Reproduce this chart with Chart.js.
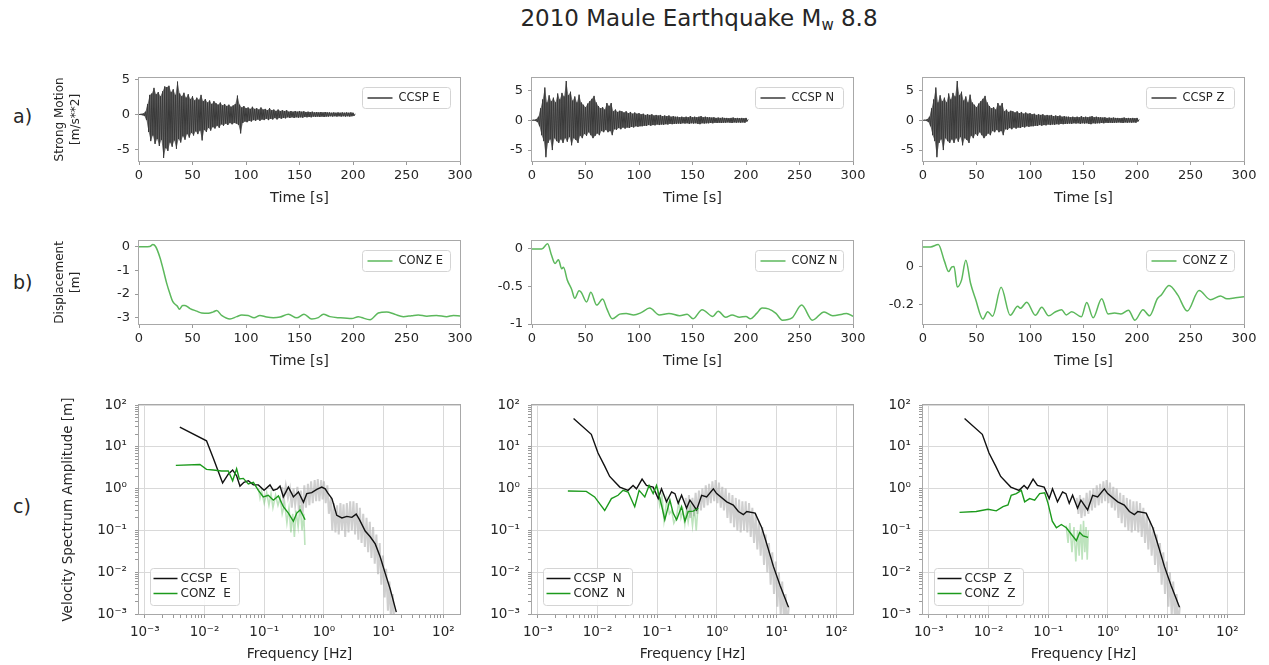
<!DOCTYPE html>
<html>
<head>
<meta charset="utf-8">
<script src="https://cdn.jsdelivr.net/npm/chart.js@4.4.1/dist/chart.umd.min.js"></script>
<style>
body{margin:0;width:1269px;height:665px;position:relative;overflow:hidden;background:#fff;font-family:'DejaVu Sans',sans-serif;color:#262626}
canvas{position:absolute}
#title{position:absolute;left:449px;top:5px;width:500px;text-align:center;font-size:23px;line-height:26px}
#title sub{font-size:15px;vertical-align:-4px;line-height:0}
.row{position:absolute;left:13px;font-size:19px;line-height:20px}
</style>
</head>
<body>
<div id="title">2010 Maule Earthquake M<sub>w</sub> 8.8</div>
<div class="row" style="top:106px">a)</div>
<div class="row" style="top:272px">b)</div>
<div class="row" style="top:496px">c)</div>
<script>
// ========== Data ==========
// strong motion: envelope peaks read every 2 s (upper at even s, lower at odd s)
const ENV_STEP=2;
const accUpE=[0.05,0.1,0.15,0.4,1.5,2.8,3.0,3.8,2.9,3.2,2.6,3.3,4.0,3.9,4.1,3.2,3.6,2.8,4.7,3.0,2.6,3.1,2.4,2.9,2.2,2.6,2.0,2.4,2.1,2.8,1.9,2.2,1.7,2.0,1.5,1.9,1.6,1.4,1.7,1.3,1.5,1.2,1.4,1.1,1.3,1.5,2.7,1.4,1.0,1.2,0.9,1.0,0.8,1.1,0.8,0.9,0.7,1.0,0.7,0.8,0.6,0.9,0.6,0.7,0.5,0.7,0.5,0.6,0.5,0.6,0.4,0.5,0.4,0.5,0.4,0.5,0.4,0.45,0.35,0.4,0.35,0.4,0.3,0.35,0.3,0.35,0.3,0.35,0.3,0.3,0.25,0.3,0.25,0.3,0.25,0.3,0.25,0.3,0.25,0.3,0.25,0.1];
const accLoE=[-0.05,-0.1,-0.2,-0.8,-2.5,-3.8,-3.0,-4.2,-3.5,-4.5,-3.6,-6.2,-4.8,-5.2,-4.0,-4.6,-3.7,-4.9,-3.5,-4.0,-3.1,-3.6,-2.8,-3.3,-2.6,-3.0,-2.4,-2.8,-2.3,-3.7,-2.2,-2.5,-1.9,-2.3,-1.8,-2.0,-1.6,-1.9,-1.4,-1.6,-1.3,-1.5,-1.2,-1.4,-1.2,-1.3,-1.5,-2.7,-1.2,-1.0,-1.1,-0.9,-1.0,-0.8,-0.9,-0.7,-0.9,-0.7,-0.8,-0.6,-0.8,-0.6,-0.7,-0.5,-0.7,-0.5,-0.6,-0.5,-0.55,-0.4,-0.5,-0.4,-0.5,-0.4,-0.45,-0.4,-0.45,-0.35,-0.4,-0.35,-0.4,-0.3,-0.35,-0.3,-0.35,-0.3,-0.35,-0.3,-0.3,-0.25,-0.3,-0.25,-0.3,-0.25,-0.3,-0.25,-0.3,-0.25,-0.3,-0.25,-0.2];
const accUpN=[0.05,0.1,0.2,0.6,2.0,3.5,5.5,3.0,4.2,3.2,3.8,3.0,4.5,3.5,4.6,4.0,6.6,4.2,4.8,3.3,4.0,3.0,4.3,3.0,2.6,2.2,2.8,3.2,3.6,4.1,3.0,2.4,2.0,2.2,1.8,2.9,2.4,2.9,1.5,1.8,1.4,1.6,1.5,1.3,1.5,1.2,1.4,1.1,1.3,1.1,1.2,1.0,1.1,0.9,1.0,0.9,1.0,0.8,0.9,0.8,0.9,0.7,0.8,0.7,0.8,0.6,0.7,0.6,0.6,0.5,0.6,0.5,0.6,0.5,0.7,0.5,0.6,0.5,0.6,0.7,0.5,0.6,0.5,0.5,0.45,0.5,0.4,0.45,0.4,0.45,0.4,0.4,0.35,0.4,0.45,0.35,0.4,0.35,0.4,0.35,0.4,0.15];
const accLoN=[-0.05,-0.1,-0.3,-1.0,-2.5,-3.5,-6.2,-3.8,-3.2,-5.0,-3.0,-3.5,-3.8,-3.2,-3.8,-3.0,-3.6,-2.8,-4.2,-3.0,-3.3,-3.8,-2.6,-3.0,-2.3,-2.6,-2.0,-2.5,-3.0,-2.6,-2.2,-2.5,-1.8,-2.0,-1.6,-2.0,-1.8,-2.5,-1.5,-1.6,-1.3,-1.5,-1.2,-1.4,-1.2,-1.3,-1.1,-1.2,-1.0,-1.1,-1.0,-1.0,-0.9,-0.95,-0.8,-0.9,-0.8,-0.85,-0.7,-0.8,-0.7,-0.75,-0.65,-0.7,-0.6,-0.65,-0.6,-0.6,-0.55,-0.6,-0.5,-0.55,-0.5,-0.6,-0.5,-0.55,-0.5,-0.6,-0.65,-0.5,-0.55,-0.5,-0.5,-0.45,-0.5,-0.4,-0.45,-0.4,-0.45,-0.4,-0.4,-0.35,-0.4,-0.45,-0.35,-0.4,-0.35,-0.4,-0.35,-0.4,-0.2];
// the Z trace in the figure is drawn identical to N
const accUpZ=accUpN, accLoZ=accLoN;

// displacement [m]
const dispT_E=[0,5,10,13,15.5,19.7,22.8,25.9,29,31.5,34.3,36,37.7,40.8,43,47.7,53.9,58.6,64.8,69.5,72.6,77.2,85,91.3,96,102,107.5,113,119.3,125.5,131.8,139.6,147.4,154.2,161.4,167.6,172.3,178.5,187.9,198.8,205,208,215.9,223.6,231.5,239,247,254.8,261,269,278,287.5,293.8,300];
const dispE=[-0.01,-0.01,0.0,0.08,0.0,-0.48,-1.0,-1.55,-2.0,-2.31,-2.45,-2.52,-2.64,-2.48,-2.48,-2.61,-2.72,-2.8,-2.81,-2.75,-2.69,-2.9,-3.05,-2.95,-2.88,-2.9,-3.0,-2.9,-2.97,-3.0,-2.97,-2.85,-3.0,-2.85,-3.05,-2.99,-2.85,-2.95,-3.0,-3.03,-2.95,-2.99,-3.08,-2.8,-2.75,-2.85,-2.95,-2.91,-2.88,-2.93,-2.9,-2.95,-2.9,-2.92];
const dispT_N=[0,5,9,14.6,18,21.5,24.7,27.8,29.4,33,37,40,44,46,51,55,60.5,66,70,75,82,88,95,102,110,119,128,138,145,150.6,159,169,174,181,187,194,200,204,210,215,221,228,234,243,252,262,273,281,290,294,300];
const dispN=[-0.01,-0.01,-0.01,0.06,-0.08,-0.2,-0.15,-0.27,-0.25,-0.42,-0.54,-0.66,-0.56,-0.58,-0.71,-0.58,-0.75,-0.67,-0.8,-0.93,-0.87,-0.86,-0.88,-0.85,-0.79,-0.88,-0.86,-0.89,-0.87,-0.93,-0.81,-0.9,-0.83,-0.91,-0.88,-0.91,-0.9,-0.93,-0.86,-0.79,-0.8,-0.86,-0.95,-0.92,-0.75,-0.95,-0.84,-0.89,-0.87,-0.86,-0.9];
const dispT_Z=[0,7,14.3,20,24,27,29,32,36,40,44.5,49,56,60.5,65,73,81.5,88.5,91,97,105,111,117.5,123.5,129.5,134,139,148,153,159,167,173,179,185,192,198,205.6,211.7,219,222.7,230,238,247,258,268.7,278,284,292,300];
const dispZ=[0.103,0.103,0.115,0.028,-0.027,-0.002,0.0,-0.108,-0.072,0.033,-0.09,-0.17,-0.277,-0.238,-0.262,-0.11,-0.257,-0.21,-0.22,-0.188,-0.257,-0.215,-0.26,-0.24,-0.228,-0.255,-0.238,-0.265,-0.19,-0.27,-0.17,-0.25,-0.245,-0.25,-0.23,-0.283,-0.228,-0.26,-0.17,-0.15,-0.1,-0.15,-0.235,-0.127,-0.175,-0.155,-0.17,-0.165,-0.16];

// velocity spectra, smoothed [Hz] / [m]
const specF_E=[0.00386,0.0108,0.014,0.0201,0.025,0.0296,0.0345,0.0393,0.0458,0.0542,0.0658,0.0798,0.0993,0.125,0.142,0.166,0.184,0.209,0.254,0.308,0.374,0.454,0.516,0.625,0.759,0.92,1.05,1.15,1.36,1.64,2.0,2.42,2.94,3.47,3.94,4.91,5.96,7.23,8.77,10.6,12.9,16.3];
const ccspE=[29.6,14.0,5.4,1.37,2.22,2.8,2.03,1.15,1.42,1.55,1.23,1.23,0.91,1.23,0.91,0.99,1.15,0.635,1.09,0.635,0.83,0.47,0.76,0.80,0.96,1.09,0.99,0.80,0.58,0.23,0.199,0.217,0.206,0.246,0.182,0.097,0.0705,0.0475,0.0232,0.0095,0.0039,0.00111];
const conzF_E=[0.00331,0.00838,0.0108,0.014,0.0193,0.025,0.0296,0.0345,0.0383,0.0447,0.0542,0.0658,0.0798,0.0966,0.117,0.142,0.173,0.209,0.254,0.308,0.351,0.40,0.484];
const conzE=[3.6,3.8,2.9,2.8,2.65,2.65,1.55,3.0,1.70,1.76,1.30,1.42,0.91,0.635,0.695,0.53,0.67,0.37,0.26,0.166,0.26,0.31,0.18];
const specF_N=[0.00397,0.00787,0.0102,0.0132,0.016,0.0236,0.0325,0.0394,0.0449,0.0558,0.066,0.0855,0.104,0.118,0.143,0.174,0.198,0.225,0.256,0.31,0.353,0.457,0.555,0.673,0.871,0.99,1.46,1.88,2.29,2.77,3.16,4.36,5.64,6.84,8.85,11.5,15.8];
const ccspN=[48,20,7.1,3.47,1.96,1.09,0.91,1.19,0.99,1.7,1.19,1.09,0.58,0.99,0.485,0.83,0.76,0.445,0.695,0.34,0.53,0.31,0.695,0.635,0.99,0.76,0.485,0.406,0.284,0.238,0.284,0.26,0.116,0.0475,0.0136,0.00466,0.00146];
const conzF_N=[0.00319,0.00649,0.00895,0.0132,0.0171,0.0221,0.0268,0.0325,0.042,0.0498,0.0619,0.0731,0.0855,0.0973,0.118,0.134,0.163,0.185,0.211,0.256,0.291,0.331,0.402,0.488];
const conzN=[0.88,0.86,0.635,0.30,0.58,0.695,0.91,0.83,0.37,0.91,0.635,1.19,0.76,1.19,0.406,0.18,0.53,0.26,0.18,0.37,0.166,0.284,0.29,0.34];
const specF_Z=specF_N, ccspZ=ccspN;
const conzF_Z=[0.00327,0.00622,0.0098,0.0135,0.0175,0.0212,0.024,0.0292,0.0354,0.0403,0.0489,0.0593,0.0719,0.0873,0.0993,0.117,0.137,0.166,0.201,0.244,0.296,0.337,0.384,0.466];
const conzZ=[0.27,0.284,0.32,0.294,0.37,0.406,0.695,0.76,0.91,0.485,0.58,0.53,0.76,0.80,0.445,0.166,0.116,0.139,0.116,0.081,0.057,0.089,0.074,0.068];

// raw (unsmoothed) spectra, peaks and troughs
const grayF_E=[0.20,0.21,0.23,0.25,0.27,0.29,0.31,0.33,0.36,0.38,0.41,0.44,0.47,0.50,0.54,0.57,0.61,0.65,0.70,0.74,0.79,0.84,0.90,0.95,1.0,1.07,1.14,1.21,1.3,1.38,1.47,1.56,1.66,1.77,1.89,2.0,2.13,2.27,2.42,2.58,2.75,2.93,3.12,3.32,3.54,3.77,4.0,4.27,4.55,4.85,5.17,5.5,5.86,6.25,6.66,7.1,7.56,8.05,8.58,9.14,9.74,10.4,11.0,11.8,12.5,13.3,14.2,15.2];
const grayE=[1.1,0.5,1.2,0.6,1.0,0.35,1.0,0.4,1.1,0.3,0.9,0.25,1.2,0.35,1.3,0.4,1.5,0.45,1.6,0.5,1.7,0.5,1.6,0.55,1.5,0.45,1.2,0.25,0.6,0.1,0.45,0.09,0.4,0.08,0.45,0.1,0.42,0.07,0.45,0.09,0.5,0.1,0.5,0.08,0.45,0.06,0.35,0.05,0.25,0.04,0.2,0.03,0.16,0.022,0.12,0.016,0.08,0.009,0.05,0.005,0.025,0.0025,0.012,0.0012,0.006,0.0007,0.003,0.0006];
const grayF_N=[0.30,0.32,0.34,0.36,0.39,0.41,0.44,0.47,0.50,0.54,0.57,0.61,0.65,0.70,0.74,0.79,0.84,0.90,0.95,1.02,1.08,1.16,1.23,1.31,1.40,1.5,1.6,1.7,1.82,1.94,2.07,2.2,2.35,2.5,2.67,2.85,3.03,3.23,3.45,3.68,3.92,4.18,4.46,4.75,5.06,5.4,5.76,6.14,6.55,6.98,7.44,7.94,8.46,9.02,9.62,10.3,10.9,11.7,12.4,13.3,14.1,15.0,16.0];
const grayN=[0.6,0.25,0.7,0.2,0.6,0.22,0.8,0.25,0.9,0.3,1.0,0.35,1.2,0.4,1.3,0.45,1.5,0.5,1.6,0.45,1.4,0.35,1.1,0.3,1.0,0.2,0.8,0.15,0.7,0.12,0.6,0.1,0.55,0.09,0.5,0.1,0.5,0.09,0.45,0.07,0.35,0.05,0.25,0.035,0.17,0.025,0.12,0.015,0.08,0.01,0.05,0.005,0.03,0.003,0.018,0.0015,0.01,0.0009,0.006,0.0006,0.003,0.0005,0.0015];
const grayF_Z=grayF_N, grayZ=grayN;
const lgF_E=[0.08,0.085,0.09,0.1,0.11,0.12,0.13,0.14,0.155,0.17,0.185,0.2,0.22,0.24,0.26,0.28,0.30,0.32,0.34,0.37,0.40,0.43,0.46,0.48];
const lgE=[1.0,0.6,0.9,0.45,0.8,0.4,0.75,0.35,0.7,0.4,0.6,0.25,0.45,0.15,0.35,0.09,0.25,0.07,0.3,0.12,0.4,0.1,0.25,0.045];
const lgF_N=[0.1,0.11,0.12,0.13,0.145,0.16,0.175,0.19,0.21,0.23,0.25,0.27,0.29,0.31,0.33,0.36,0.39,0.42,0.45,0.48];
const lgN=[1.1,0.4,0.7,0.17,0.55,0.25,0.3,0.15,0.2,0.5,0.2,0.3,0.14,0.3,0.16,0.35,0.13,0.35,0.1,0.35];
const lgF_Z=[0.2,0.215,0.23,0.25,0.27,0.29,0.31,0.33,0.35,0.37,0.39,0.41,0.43,0.45,0.47];
const lgZ=[0.13,0.05,0.15,0.03,0.12,0.018,0.1,0.025,0.14,0.02,0.17,0.03,0.12,0.02,0.1];

// ticks
const TIME_TICKS=[0,50,100,150,200,250,300];
const ACC_TICKS=[-5,0,5];
const DISP_TICKS_E=[-3,-2,-1,0], DISP_TICKS_N=[-1,-0.5,0], DISP_TICKS_Z=[-0.2,0];
const LOG_EXP=[-3,-2,-1,0,1,2];
const LOG_LABELS=['10⁻³','10⁻²','10⁻¹','10⁰','10¹','10²'];

// ========== Style ==========
const F="'DejaVu Sans', sans-serif", INK='#262626';
const WAVE='#3a3a3a', DISP_GREEN='#5cb85c', BLACK='#111111', GREEN='#1c9a1c';
const COL_LEFT=[139,532,923], PLOT_W=321;
const ROW_BOX={a:{top:75,h:86},b:{top:238,h:86},c:{top:399,h:215}};
const PAD_T=10, PAD_R=24, X_H=50;

// ========== Helpers ==========
function pts(xs,ys){return xs.map((x,i)=>({x,y:ys[i]}));}
function zigzag(up,lo){
    const d=[];
    up.forEach((u,i)=>{
        d.push({x:i*ENV_STEP,y:u});
        if(i<lo.length) d.push({x:i*ENV_STEP+ENV_STEP/2,y:lo[i]});
    });
    return d;
}
const envUp=up=>up.map((v,i)=>({x:i*ENV_STEP,y:v}));
const envLo=lo=>lo.map((v,i)=>({x:i*ENV_STEP+ENV_STEP/2,y:v}));

function drawLegend(ctx,a,lg){
    const x=Math.round(lg.anchor==='tr'?a.right-lg.dx-lg.w:a.left+lg.dx)+0.5;
    const y=Math.round(lg.anchor==='tr'?a.top+lg.dy:a.bottom-lg.dy-lg.h)+0.5;
    ctx.save();
    ctx.beginPath(); ctx.roundRect(x,y,lg.w,lg.h,3);
    ctx.fillStyle='rgba(255,255,255,0.85)'; ctx.fill();
    ctx.strokeStyle='#d4d4d4'; ctx.lineWidth=1; ctx.stroke();
    ctx.font=lg.size+'px '+F; ctx.textBaseline='middle'; ctx.textAlign='left';
    lg.items.forEach((it,i)=>{
        const yy=y+lg.rows[i];
        ctx.beginPath(); ctx.moveTo(x+lg.l0,yy); ctx.lineTo(x+lg.l1,yy);
        ctx.strokeStyle=it.color; ctx.lineWidth=it.lw; ctx.stroke();
        ctx.fillStyle=INK; ctx.fillText(it.text,x+lg.tx,yy);
    });
    ctx.restore();
}
function framePlugin(legend){
    return {id:'frame',afterDraw(chart){
        const {ctx,chartArea:a}=chart;
        ctx.save();
        ctx.strokeStyle='#a8a8a8'; ctx.lineWidth=1;
        ctx.strokeRect(Math.round(a.left)-0.5,Math.round(a.top)-0.5,Math.round(a.right-a.left)+1,Math.round(a.bottom-a.top)+1);
        ctx.restore();
        if(legend) drawLegend(ctx,a,legend);
    }};
}
function topLegend(text,color,lw){
    return {anchor:'tr',dx:10,dy:9,w:88,h:21,rows:[10.5],l0:5,l1:30,tx:36,size:11.5,items:[{text,color,lw}]};
}
function specLegend(c){
    return {anchor:'bl',dx:11,dy:9,w:89,h:37,rows:[10,25],l0:3,l1:27,tx:30,size:12,
        items:[{text:'CCSP  '+c,color:BLACK,lw:1.5},{text:'CONZ  '+c,color:GREEN,lw:1.5}]};
}

function linAxis(min,max,ticks,pad){
    return {type:'linear',min,max,
        afterBuildTicks:s=>{s.ticks=ticks.map(v=>({value:v}));},
        ticks:{font:{family:F,size:13},color:INK,padding:pad,autoSkip:false,maxRotation:0,minRotation:0,callback:v=>String(v)},
        grid:{drawOnChartArea:false,tickLength:4,color:'#999'},
        border:{display:false},
        title:{display:false}};
}
function logAxis(min,max,pad){
    const ticks=[];
    LOG_EXP.forEach(e=>{for(let m=1;m<10;m++){const v=m*Math.pow(10,e); if(v>=min&&v<=max) ticks.push({value:v,major:m===1});}});
    return {type:'logarithmic',min,max,
        afterBuildTicks:s=>{s.ticks=ticks.map(t=>({...t}));},
        ticks:{font:{family:F,size:13.5},color:INK,padding:pad,autoSkip:false,maxRotation:0,minRotation:0,
            callback:(v,i,ts)=>ts[i].major?LOG_LABELS[LOG_EXP.indexOf(Math.round(Math.log10(v)))]:''},
        grid:{tickLength:4,tickColor:'#999',color:c=>(c.tick&&c.tick.major)?'#d9d9d9':'rgba(0,0,0,0)'},
        border:{display:false},
        title:{display:false}};
}
function xTitle(ax,text,size,pb){ax.title={display:true,text,font:{family:F,size,lineHeight:1.2},color:INK,padding:{top:0,bottom:pb}};return ax;}
function yTitle(ax,text,size,lh,pt){ax.title={display:true,text,font:{family:F,size,lineHeight:lh},color:INK,padding:{top:pt,bottom:0}};return ax;}

function makePanel(col,row,datasets,xScale,yScale,legend){
    const L=COL_LEFT[col], B=ROW_BOX[row];
    const yw=col===0?L-40:60;
    const cv=document.createElement('canvas');
    cv.width=yw+PLOT_W+PAD_R; cv.height=PAD_T+B.h+X_H;
    cv.style.left=(L-yw)+'px'; cv.style.top=(B.top-PAD_T)+'px';
    document.body.appendChild(cv);
    xScale.afterFit=s=>{s.height=X_H;};
    yScale.afterFit=s=>{s.width=yw;};
    new Chart(cv,{
        type:'line',
        data:{datasets},
        options:{responsive:false,animation:false,devicePixelRatio:1,events:[],
            layout:{padding:{top:PAD_T,right:PAD_R,left:0,bottom:0}},
            elements:{point:{radius:0}},
            plugins:{legend:{display:false},tooltip:{enabled:false}},
            scales:{x:xScale,y:yScale}},
        plugins:[framePlugin(legend)]
    });
}

// ========== Row a: strong motion ==========
const accSets=[[accUpE,accLoE,'E',-6.64,5.24],[accUpN,accLoN,'N',-6.84,7.14],[accUpZ,accLoZ,'Z',-6.84,7.14]];
accSets.forEach(([up,lo,c,ymin,ymax],col)=>{
    const y=linAxis(ymin,ymax,ACC_TICKS,5);
    if(col===0) yTitle(y,['Strong Motion','[m/s**2]'],12,1.35,12);
    makePanel(col,'a',[
        {data:zigzag(up,lo),borderColor:WAVE,borderWidth:1,tension:0},
        {data:envUp(up),borderWidth:0,borderColor:'rgba(0,0,0,0)',fill:'+1',backgroundColor:'rgba(58,58,58,0.7)',tension:0},
        {data:envLo(lo),borderWidth:0,borderColor:'rgba(0,0,0,0)',tension:0}],
        xTitle(linAxis(0,300,TIME_TICKS,3),'Time [s]',14.5,4.3),y,
        topLegend('CCSP '+c,WAVE,1.5));
});

// ========== Row b: displacement ==========
const dispSets=[[dispT_E,dispE,'E',-3.26,0.24,DISP_TICKS_E],[dispT_N,dispN,'N',-1.0,0.1,DISP_TICKS_N],[dispT_Z,dispZ,'Z',-0.303,0.135,DISP_TICKS_Z]];
dispSets.forEach(([t,v,c,ymin,ymax,tk],col)=>{
    const y=linAxis(ymin,ymax,tk,5);
    if(col===0) yTitle(y,['Displacement','[m]'],12,1.35,12);
    makePanel(col,'b',
        [{data:pts(t,v),borderColor:DISP_GREEN,borderWidth:1.5,cubicInterpolationMode:'monotone'}],
        xTitle(linAxis(0,300,TIME_TICKS,3),'Time [s]',14.5,4.3),y,
        topLegend('CONZ '+c,DISP_GREEN,1.5));
});

// ========== Row c: velocity spectra ==========
const specSets=[
    [specF_E,ccspE,conzF_E,conzE,grayF_E,grayE,lgF_E,lgE,'E'],
    [specF_N,ccspN,conzF_N,conzN,grayF_N,grayN,lgF_N,lgN,'N'],
    [specF_Z,ccspZ,conzF_Z,conzZ,grayF_Z,grayZ,lgF_Z,lgZ,'Z']];
specSets.forEach(([sf,sa,cf,ca,gf,ga,lf,la,c],col)=>{
    const y=logAxis(1e-3,1e2,8);
    if(col===0) yTitle(y,'Velocity Spectrum Amplitude [m]',13.5,1.2,20);
    makePanel(col,'c',[
        {data:pts(cf,ca),borderColor:GREEN,borderWidth:1.4,tension:0},
        {data:pts(sf,sa),borderColor:BLACK,borderWidth:1.4,tension:0},
        {data:pts(lf,la),borderColor:'rgba(90,185,90,0.4)',borderWidth:1.6,tension:0},
        {data:pts(gf,ga),borderColor:'rgba(175,175,175,0.6)',borderWidth:2,tension:0}],
        xTitle(logAxis(8e-4,190,6),'Frequency [Hz]',14,1),y,
        specLegend(c));
});
</script>
</body>
</html>
